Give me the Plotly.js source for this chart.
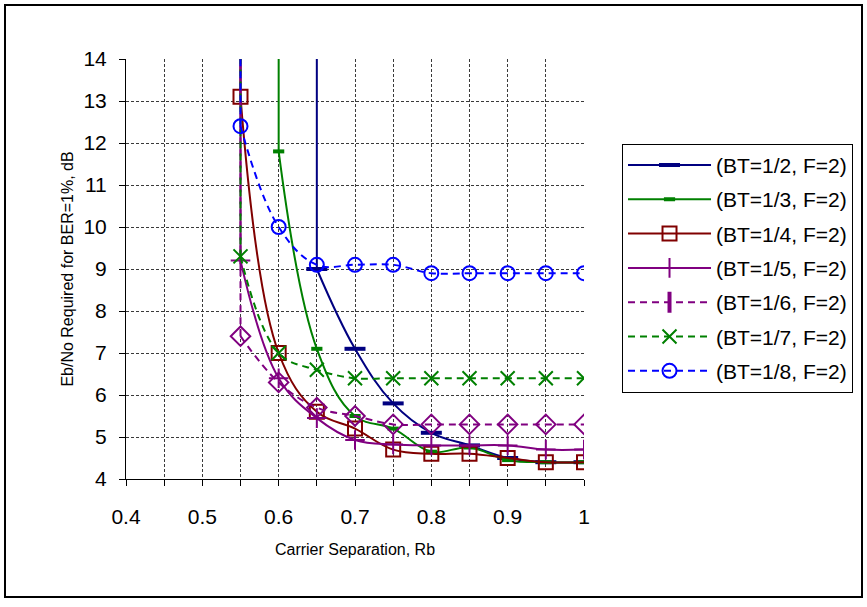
<!DOCTYPE html>
<html>
<head>
<meta charset="utf-8">
<script src="https://cdn.plot.ly/plotly-3.0.1.min.js"></script>
<style>
html,body{margin:0;padding:0;background:#fff;}
#chart{width:867px;height:607px;}
</style>
</head>
<body>
<div id="chart"></div>
<script>
// Off-scale value used where a curve rises vertically out of the plot
var OFF = 20;

var xBT2 = [0.65, 0.70, 0.75, 0.80, 0.85, 0.90, 0.95, 1.00];
var yBT2 = [9.0, 7.1, 5.8, 5.1, 4.8, 4.5, 4.4, 4.4];

var xBT3 = [0.60, 0.65, 0.70, 0.75, 0.80, 0.85, 0.90, 0.95, 1.00];
var yBT3 = [11.8, 7.1, 5.5, 5.2, 4.65, 4.75, 4.45, 4.4, 4.4];

var xBT4 = [0.55, 0.60, 0.65, 0.70, 0.75, 0.80, 0.85, 0.90, 0.95, 1.00];
var yBT4 = [13.1, 7.0, 5.6, 5.2, 4.7, 4.6, 4.6, 4.5, 4.4, 4.4];

var xBT5 = [0.55, 0.60, 0.65, 0.70, 0.75, 0.80, 0.85, 0.90, 0.95, 1.00];
var yBT5 = [9.2, 6.4, 5.45, 4.93, 4.82, 4.8, 4.8, 4.8, 4.7, 4.7];

var xBT6 = [0.55, 0.60, 0.65, 0.70, 0.75, 0.80, 0.85, 0.90, 0.95, 1.00];
var yBT6 = [7.4, 6.3, 5.7, 5.5, 5.3, 5.3, 5.3, 5.3, 5.3, 5.3];

var xBT7 = [0.55, 0.60, 0.65, 0.70, 0.75, 0.80, 0.85, 0.90, 0.95, 1.00];
var yBT7 = [9.3, 7.0, 6.6, 6.4, 6.4, 6.4, 6.4, 6.4, 6.4, 6.4];

var xBT8 = [0.55, 0.60, 0.65, 0.70, 0.75, 0.80, 0.85, 0.90, 0.95, 1.00];
var yBT8 = [12.4, 10.0, 9.1, 9.1, 9.1, 8.9, 8.9, 8.9, 8.9, 8.9];

var seriesNames = ["(BT=1/2, F=2)", "(BT=1/3, F=2)", "(BT=1/4, F=2)", "(BT=1/5, F=2)",
                   "(BT=1/6, F=2)", "(BT=1/7, F=2)", "(BT=1/8, F=2)"];

var xTickVals = [0.4, 0.5, 0.6, 0.7, 0.8, 0.9, 1.0];
var xTickText = ["0.4", "0.5", "0.6", "0.7", "0.8", "0.9", "1"];
var yTickVals = [4, 5, 6, 7, 8, 9, 10, 11, 12, 13, 14];

var FONT = '"Liberation Sans", Arial, sans-serif';
var DASH = '7px,5px';

var traces = [];
function addSeries(x, y, name, color, dash, marker, group, showleg) {
  // vertical rise from the first point to the off-scale value
  traces.push({
    x: [x[0], x[0]], y: [y[0], OFF], type: 'scatter', mode: 'lines',
    line: {color: color, width: 2, dash: dash}, showlegend: false,
    legendgroup: group, hoverinfo: 'skip'
  });
  traces.push({
    x: x, y: y, name: name, type: 'scatter', mode: 'lines+markers',
    line: {color: color, width: 2, dash: dash, shape: 'spline', smoothing: 1.1},
    marker: marker, legendgroup: group, showlegend: showleg !== false
  });
}

addSeries(xBT2, yBT2, seriesNames[0], '#000080', 'solid',
  {symbol: 'line-ew', size: 15, color: '#000080', line: {color: '#000080', width: 4}}, 'g1');
addSeries(xBT3, yBT3, seriesNames[1], '#008000', 'solid',
  {symbol: 'line-ew', size: 8, color: '#008000', line: {color: '#008000', width: 4}}, 'g2');
addSeries(xBT4, yBT4, seriesNames[2], '#800000', 'solid',
  {symbol: 'square-open', size: 14, color: '#800000', line: {color: '#800000', width: 2}}, 'g3');
addSeries(xBT5, yBT5, seriesNames[3], '#800080', 'solid',
  {symbol: 'cross-thin', size: 14, color: '#800080', line: {color: '#800080', width: 2}}, 'g4');
addSeries(xBT6, yBT6, seriesNames[4], '#800080', DASH,
  {symbol: 'diamond-open', size: 15, color: '#800080', line: {color: '#800080', width: 2}}, 'g5', false);
// legend entry for BT=1/6 as shown in the reference legend (vertical bar marker)
traces.push({x: [null], y: [null], name: seriesNames[4], type: 'scatter', mode: 'lines+markers',
  line: {color: '#800080', width: 2, dash: DASH},
  marker: {symbol: 'line-ns', size: 15, color: '#800080', line: {color: '#800080', width: 4}},
  legendgroup: 'g5', showlegend: true});
addSeries(xBT7, yBT7, seriesNames[5], '#008000', DASH,
  {symbol: 'x-thin', size: 14, color: '#008000', line: {color: '#008000', width: 2}}, 'g6');
addSeries(xBT8, yBT8, seriesNames[6], '#0000FF', DASH,
  {symbol: 'circle-open', size: 14, color: '#0000FF', line: {color: '#0000FF', width: 2}}, 'g7');

var GRID = '#3a3a3a';

var layout = {
  width: 867, height: 607,
  margin: {l: 126, r: 283, t: 59, b: 128, pad: 0},
  paper_bgcolor: '#fff', plot_bgcolor: '#fff',
  font: {family: FONT, color: '#000', size: 21},
  showlegend: true,
  legend: {
    x: 1.083, y: 0.798, xanchor: 'left', yanchor: 'top',
    bgcolor: '#fff', bordercolor: '#000', borderwidth: 1,
    font: {family: FONT, size: 21, color: '#000'},
    itemwidth: 83, tracegroupgap: 4, traceorder: 'grouped'
  },
  xaxis: {
    range: [0.4, 1.0], tickmode: 'array', tickvals: xTickVals, ticktext: xTickText,
    showgrid: true, gridcolor: GRID, griddash: '3px,2px', gridwidth: 1,
    ticks: 'outside', ticklen: 6, tickcolor: '#000', tickwidth: 1,
    showline: true, linecolor: '#000', linewidth: 1, zeroline: false,
    ticklabelstandoff: 13,
    tickfont: {family: FONT, size: 21, color: '#000'},
    minor: {dtick: 0.05, tick0: 0.4, ticks: 'outside', ticklen: 6, tickcolor: '#000',
            showgrid: true, gridcolor: GRID, griddash: '3px,2px', gridwidth: 1},
    title: {text: 'Carrier Separation, Rb', font: {family: FONT, size: 16, color: '#000'}, standoff: 16}
  },
  yaxis: {
    range: [4, 14], tickmode: 'array', tickvals: yTickVals,
    showgrid: true, gridcolor: GRID, griddash: '3px,2px', gridwidth: 1,
    ticks: 'outside', ticklen: 6, tickcolor: '#000', tickwidth: 1,
    showline: true, linecolor: '#000', linewidth: 1, zeroline: false,
    ticklabelstandoff: 8,
    tickfont: {family: FONT, size: 21, color: '#000'},
    title: {text: 'Eb/No Required for BER=1%, dB', font: {family: FONT, size: 16, color: '#000'}, standoff: 5}
  },
  shapes: [{
    type: 'rect', xref: 'paper', yref: 'paper',
    x0: -0.2642, x1: 1.607, y0: -0.281, y1: 1.1286,
    line: {color: '#000', width: 2}, fillcolor: 'rgba(0,0,0,0)', layer: 'above'
  }]
};

Plotly.newPlot('chart', traces, layout, {displayModeBar: false, staticPlot: true});
</script>
</body>
</html>
